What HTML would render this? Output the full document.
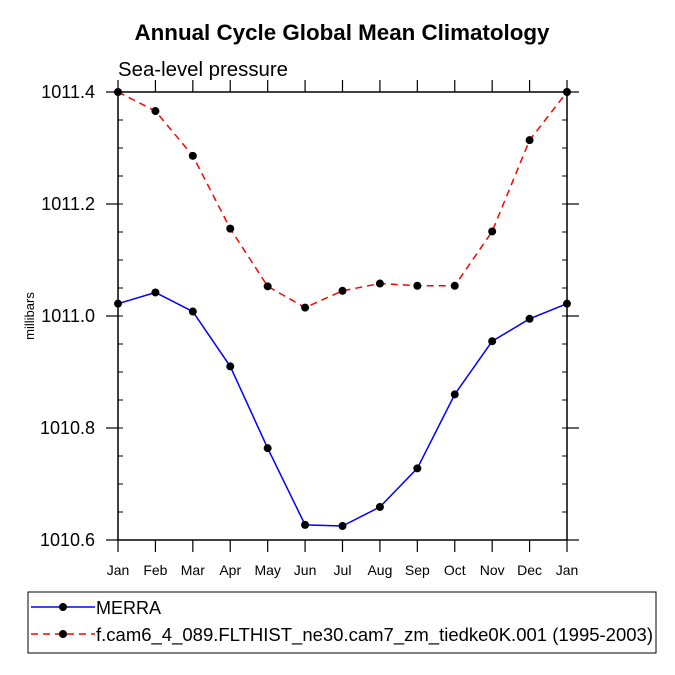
<!DOCTYPE html>
<html><head><meta charset="utf-8"><style>body{margin:0;background:#fff}svg{display:block;font-family:"Liberation Sans",Arial,sans-serif}</style></head>
<body>
<svg id="c" width="675" height="675">
<text x="342" y="40" text-anchor="middle" font-size="22" font-weight="bold" textLength="415" lengthAdjust="spacingAndGlyphs">Annual Cycle Global Mean Climatology</text>
<text x="118" y="76" font-size="20" textLength="170" lengthAdjust="spacingAndGlyphs">Sea-level pressure</text>
<text transform="translate(34,316) rotate(-90)" text-anchor="middle" font-size="13">millibars</text>
<g id="plot"></g>
<g>
<rect x="28" y="592" width="628" height="61" fill="none" stroke="#000" stroke-width="1"/>
<g>
<line x1="31" y1="607" x2="95" y2="607" stroke="#00f" stroke-width="1.5"/><circle cx="63" cy="607" r="4" fill="#000"/>
<text x="96" y="614" font-size="18" textLength="65" lengthAdjust="spacingAndGlyphs">MERRA</text></g>
<g>
<line x1="31" y1="634" x2="95" y2="634" stroke="#f00" stroke-width="1.5" stroke-dasharray="7,5"/><circle cx="63" cy="634" r="4" fill="#000"/>
<text x="96" y="641" font-size="18" textLength="557" lengthAdjust="spacingAndGlyphs">f.cam6_4_089.FLTHIST_ne30.cam7_zm_tiedke0K.001 (1995-2003)</text></g>
</g>
</svg>
<script>
const months=["Jan","Feb","Mar","Apr","May","Jun","Jul","Aug","Sep","Oct","Nov","Dec","Jan"];
const merra=[1011.022,1011.042,1011.008,1010.910,1010.764,1010.627,1010.625,1010.659,1010.728,1010.860,1010.955,1010.995,1011.022];
const cam=[1011.400,1011.366,1011.286,1011.156,1011.053,1011.015,1011.045,1011.058,1011.054,1011.054,1011.151,1011.314,1011.400];
const yTicks=["1010.6","1010.8","1011.0","1011.2","1011.4"];
const L=118,R=567,T=92,B=540,ymin=1010.6,ymax=1011.4;
const X=i=>L+(R-L)*i/(months.length-1);
const Y=v=>B-(B-T)*(v-ymin)/(ymax-ymin);
const g=document.getElementById('plot');const NS="http://www.w3.org/2000/svg";
function mk(t,a,p){const e=document.createElementNS(NS,t);for(const k in a)e.setAttribute(k,a[k]);(p||g).appendChild(e);return e;}
const fr=mk('rect',{x:L,y:T,width:R-L,height:B-T,fill:'none',stroke:'#000','stroke-width':1.5});


months.forEach((m,i)=>{const x=X(i);
mk('line',{x1:x,y1:B,x2:x,y2:B+12,stroke:'#000','stroke-width':1.2});
mk('line',{x1:x,y1:T,x2:x,y2:T-12,stroke:'#000','stroke-width':1.2});
const t=mk('text',{x:x,y:B+35,'text-anchor':'middle','font-size':14});t.textContent=m;

});
yTicks.forEach(s=>{const y=Y(parseFloat(s));
mk('line',{x1:L-12,y1:y,x2:L,y2:y,stroke:'#000','stroke-width':1.2});
mk('line',{x1:R,y1:y,x2:R+12,y2:y,stroke:'#000','stroke-width':1.2});
const t=mk('text',{x:L-23,y:y+6,'text-anchor':'end','font-size':18});t.textContent=s;

});
for(let v=ymin;v<ymax+1e-9;v+=0.05){const y=Y(v);mk('line',{x1:L,y1:y,x2:L+5,y2:y,stroke:'#000'});mk('line',{x1:R-5,y1:y,x2:R,y2:y,stroke:'#000'});}
function series(d,col,dash,name){const p=mk('polyline',{points:d.map((v,i)=>X(i)+','+Y(v)).join(' '),fill:'none',stroke:col,'stroke-width':1.5});
if(dash)p.setAttribute('stroke-dasharray','7,5');


d.forEach((v,i)=>{const c=mk('circle',{cx:X(i),cy:Y(v),r:4,fill:'#000'});

});}
series(cam,'#f00',true,'cam6');
series(merra,'#00f',false,'merra');
</script>
</body></html>
